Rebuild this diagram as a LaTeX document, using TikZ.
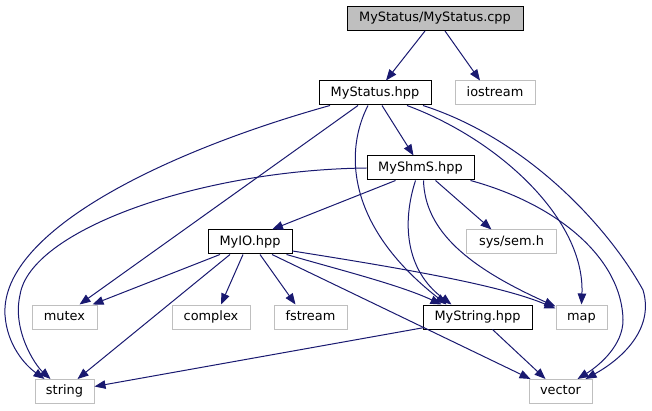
\documentclass[tikz,border=0pt]{standalone}
\usepackage{fontspec}
\setmainfont{DejaVu Sans}
\usetikzlibrary{arrows.meta,calc}
\definecolor{edgeblue}{HTML}{191970}
\definecolor{grey75}{HTML}{BFBFBF}
\begin{document}
\begin{tikzpicture}[x=1pt,y=-1pt,
  box/.style={draw=black,line width=1pt,fill=white,minimum height=24pt,inner sep=0pt,
    text height=9.6pt,text depth=2.9pt,font=\fontsize{12.9}{15}\selectfont},
  sysbox/.style={box,draw=grey75},
  arr/.style={draw=edgeblue,line width=1pt,-{Triangle[length=11pt,width=8.5pt]},fill=none},
]
\useasboundingbox (0,0) rectangle (652,411);
\node[box,fill=grey75,minimum width=176pt] (cpp) at (435,18.5) {MyStatus/MyStatus.cpp};
\node[box,minimum width=112pt] (mshpp) at (375,93) {MyStatus.hpp};
\node[sysbox,minimum width=80pt] (iostream) at (495,93) {iostream};
\node[box,minimum width=107pt] (shms) at (420.5,168) {MyShmS.hpp};
\node[sysbox,minimum width=90pt] (sem) at (511.5,242) {sys/sem.h};
\node[box,minimum width=84pt] (myio) at (250,242) {MyIO.hpp};
\node[sysbox,minimum width=65pt] (mutex) at (64.5,317) {mutex};
\node[sysbox,minimum width=78pt] (complex) at (211,317) {complex};
\node[sysbox,minimum width=73pt] (fstream) at (310.5,317) {fstream};
\node[box,minimum width=109pt] (mystring) at (477.5,317) {MyString.hpp};
\node[sysbox,minimum width=51pt] (map) at (581.5,317) {map};
\node[sysbox,minimum width=59pt] (string) at (64.5,391.5) {string};
\node[sysbox,minimum width=63pt] (vector) at (560.5,391.5) {vector};

% from MyStatus.cpp
\draw[arr] ($(cpp.south)+(-10,0)$) -- ($(mshpp.north)+(11,0)$);
\draw[arr] ($(cpp.south)+(10,0)$) -- ($(iostream.north)+(-15,0)$);
% from MyStatus.hpp
\draw[arr] ($(mshpp.south)+(7,0)$) -- ($(shms.north)+(-7,0)$);
\draw[arr] ($(mshpp.south)+(-45,0)$) .. controls (170,150) and (0,230) .. (5,315)
  .. controls (7,345) and (25,365) .. ($(string.north)+(-20,0)$);
\draw[arr] ($(mshpp.south)+(-17,0)$) -- ($(mutex.north)+(15,0)$);
\draw[arr] ($(mshpp.south)+(-7,0)$) .. controls (345,150) and (345,225) .. ($(mystring.north)+(-31,0)$);
\draw[arr] ($(mshpp.south)+(32,0)$) .. controls (500,140) and (585,220) .. (map.north);
\draw[arr] ($(mshpp.south)+(48,0)$) .. controls (530,140) and (610,230) .. (643,290)
  .. controls (655,330) and (620,360) .. ($(vector.north)+(25,0)$);
% from MyShmS.hpp
\draw[arr] ($(shms.south)+(-25,0)$) -- ($(myio.north)+(22,0)$);
\draw[arr] ($(shms.south)+(15,0)$) -- ($(sem.north)+(-20,0)$);
\draw[arr] (shms.west) .. controls (200,170) and (30,230) .. (20,295)
  .. controls (12,330) and (35,365) .. ($(string.north)+(-14,0)$);
\draw[arr] ($(shms.south)+(-5,0)$) .. controls (402,222) and (405,270) .. ($(mystring.north)+(-26,0)$);
\draw[arr] ($(shms.south)+(3,0)$) .. controls (425,232) and (470,268) .. ($(map.north west)+(0,2)$);
\draw[arr] ($(shms.south east)+(-4,0)$) .. controls (560,205) and (622,260) .. (623,320)
  .. controls (623,345) and (600,365) .. ($(vector.north)+(17,0)$);
% from MyIO.hpp
\draw[arr] ($(myio.south)+(-30,0)$) -- ($(mutex.north)+(28,0)$);
\draw[arr] ($(myio.south)+(-20,0)$) -- ($(string.north)+(13,0)$);
\draw[arr] ($(myio.south)+(-7,0)$) -- ($(complex.north)+(10,0)$);
\draw[arr] ($(myio.south)+(10,0)$) -- ($(fstream.north)+(-15,0)$);
\draw[arr] ($(myio.south)+(22,0)$) -- ($(vector.north)+(-30,0)$);
\draw[arr] ($(myio.south east)+(-6,0)$) .. controls (340,270) and (400,285) .. ($(mystring.north)+(-36,0)$);
\draw[arr] ($(myio.east)+(0,9)$) .. controls (400,268) and (500,285) .. ($(map.north west)+(0,4)$);
% from MyString.hpp
\draw[arr] ($(mystring.south)+(15,0)$) -- ($(vector.north)+(-15,0)$);
\draw[arr] ($(mystring.south west)+(2,-2)$) -- ($(string.east)+(0,-5)$);
\end{tikzpicture}
\end{document}
